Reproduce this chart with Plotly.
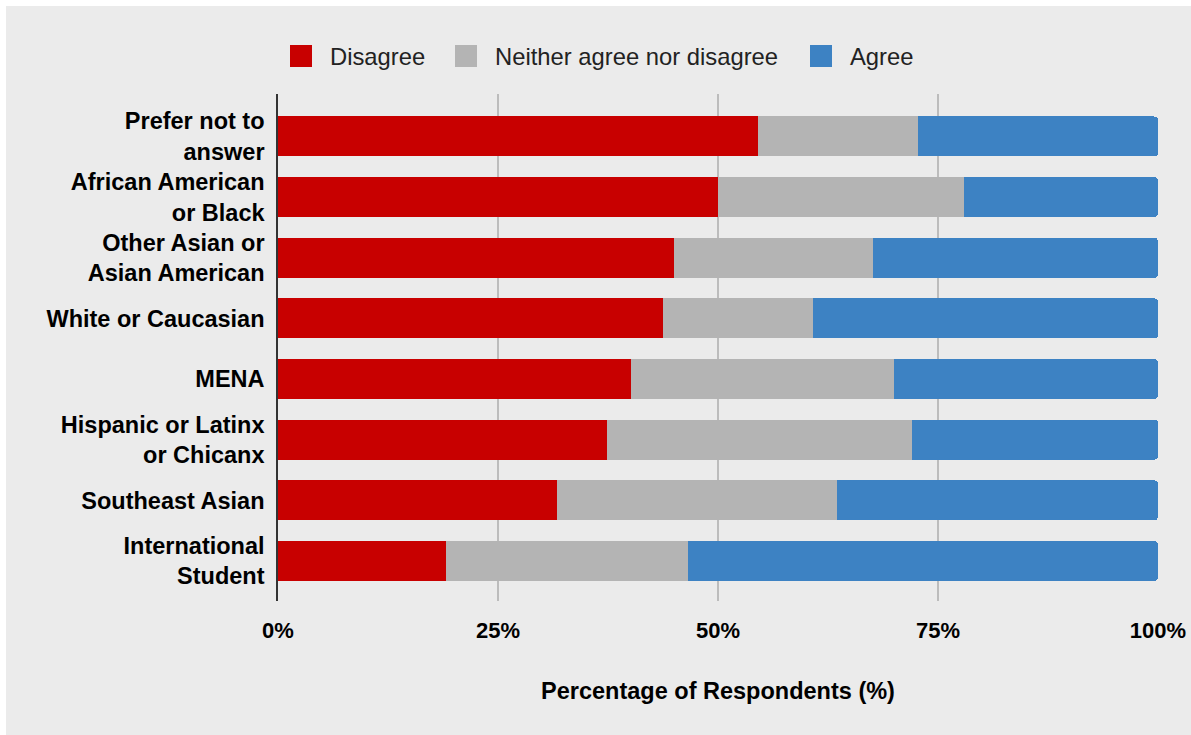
import plotly.graph_objects as go

# Survey responses by group (percent of respondents)
groups = [
    "Prefer not to<br>answer",
    "African American<br>or Black",
    "Other Asian or<br>Asian American",
    "White or Caucasian",
    "MENA",
    "Hispanic or Latinx<br>or Chicanx",
    "Southeast Asian",
    "International<br>Student",
]
disagree = [54.5, 50.0, 45.0, 43.7, 40.1, 37.4, 31.7, 19.1]
neither = [18.2, 27.9, 22.6, 17.1, 29.9, 34.7, 31.8, 27.5]
agree = [27.3, 22.1, 32.4, 39.2, 30.0, 27.9, 36.5, 53.4]

series_names = ["Disagree", "Neither agree nor disagree", "Agree"]
series_values = [disagree, neither, agree]
series_colors = ["#c80000", "#b4b4b4", "#3d82c3"]

x_ticks = [0, 25, 50, 75, 100]
x_tick_labels = ["0%", "25%", "50%", "75%", "100%"]

W, H = 1191, 735
ML, MR, MT, MB = 278, 33, 94, 134
BG = "#ebebeb"
FONT = "Liberation Sans, Arial, sans-serif"

fig = go.Figure()
for name, vals, color in zip(series_names, series_values, series_colors):
    fig.add_trace(go.Bar(
        y=groups, x=vals, name=name, orientation="h",
        marker=dict(color=color, line=dict(width=0)),
        width=0.66, showlegend=False,
        hovertemplate="%{y}: %{x:.1f}%<extra>" + name + "</extra>",
    ))

# pixel -> paper helpers for the legend and the frame
pw, ph = W - ML - MR, H - MT - MB


def px_x(px):
    return (px - ML) / pw


def px_y(py):
    return (H - MB - py) / ph


shapes = [
    # thin white frame along the top and left edges
    dict(type="rect", xref="paper", yref="paper", x0=px_x(-5), x1=px_x(6),
         y0=px_y(H + 5), y1=px_y(-5), fillcolor="white", line=dict(width=0)),
    dict(type="rect", xref="paper", yref="paper", x0=px_x(-5), x1=px_x(W + 5),
         y0=px_y(6), y1=px_y(-5), fillcolor="white", line=dict(width=0)),
]
annotations = []
legend_x = [290, 455, 810]
for lx, name, color in zip(legend_x, series_names, series_colors):
    shapes.append(dict(type="rect", xref="paper", yref="paper",
                       x0=px_x(lx), x1=px_x(lx + 22), y0=px_y(67), y1=px_y(45),
                       fillcolor=color, line=dict(width=0)))
    annotations.append(dict(xref="paper", yref="paper", x=px_x(lx + 38), y=px_y(56),
                            text=name, showarrow=False, xanchor="left", yanchor="middle",
                            font=dict(family=FONT, size=23.8, color="#222222")))

fig.update_layout(
    width=W, height=H,
    margin=dict(l=ML, r=MR, t=MT, b=MB),
    paper_bgcolor=BG, plot_bgcolor=BG,
    barmode="stack", barcornerradius=4,
    shapes=shapes, annotations=annotations,
    font=dict(family=FONT, color="#000000"),
    xaxis=dict(
        range=[0, 100], tickvals=x_ticks, ticktext=x_tick_labels,
        showgrid=True, gridcolor="#bcbcbc", gridwidth=2,
        zeroline=False, showline=False, automargin=False,
        tickfont=dict(family=FONT, size=22, color="#000000", weight="bold"),
        ticks="", ticklabelstandoff=14,
        title=dict(text="Percentage of Respondents (%)", standoff=40,
                   font=dict(family=FONT, size=23.5, color="#000000", weight="bold")),
        fixedrange=True,
    ),
    yaxis=dict(
        type="category", categoryorder="array", categoryarray=groups,
        range=[7.66, -0.70], automargin=False,
        showgrid=False, zeroline=False,
        showline=True, linecolor="#333333", linewidth=1.5,
        tickfont=dict(family=FONT, size=23.5, color="#000000", weight="bold"),
        ticks="", ticklabelstandoff=7,
        fixedrange=True,
    ),
)

fig.write_html("out.html", config={"displayModeBar": False})
